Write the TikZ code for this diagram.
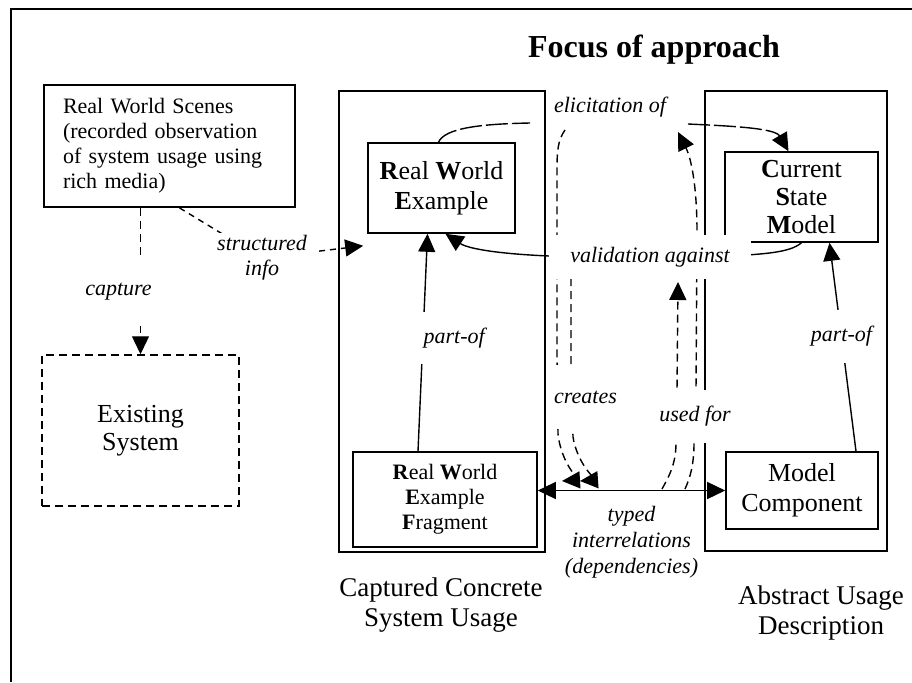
\documentclass[tikz,border=0pt]{standalone}
\usepackage{fontspec}
\setmainfont{Liberation Serif}
\usetikzlibrary{arrows.meta}

\begin{document}
\begin{tikzpicture}[x=1pt, y=-1pt,
	frame/.style={draw, line width=1.8pt, inner sep=0pt},
	entity/.style={draw, line width=1.6pt, align=center, inner sep=0pt, font=\fontsize{26}{30}\selectfont},
	lbl/.style={fill=white, align=center, inner sep=3pt, font=\fontsize{22}{25}\selectfont\itshape},
	caption/.style={align=center, font=\fontsize{27}{30}\selectfont},
	link/.style={line width=1.4pt, -{Triangle[length=18pt, width=17pt]}},
	dashlink/.style={link, dash pattern=on 8pt off 5pt}]
	% Paths, nodes and wires:
	\useasboundingbox (0, 0) rectangle (912, 682);
	\draw[line width=1.8pt] (11, 682) -- (11, 9) -- (912, 9);
	\node[font=\fontsize{32}{36}\selectfont\bfseries] (title) at (654, 50) {Focus of approach};
	\node[frame, text width=213pt, inner xsep=19pt, minimum height=122pt, align=left, font=\fontsize{22}{25}\selectfont] (scenes) at (169.5, 146) {Real World Scenes\\(recorded observation\\of system usage using\\rich media)};
	\node[entity, line width=1.5pt, dash pattern=on 8pt off 5pt, minimum width=197pt, minimum height=151pt, font=\fontsize{26}{28}\selectfont] (existing) at (140.5, 430.5) {Existing\\System};
	\node[frame, minimum width=206pt, minimum height=461pt] (concrete) at (442, 321.5) {};
	\node[frame, minimum width=182pt, minimum height=460pt] (abstract) at (796, 321) {};
	\node[entity, minimum width=147pt, minimum height=90pt] (rwe) at (441.5, 188) {\textbf{R}eal \textbf{W}orld\\\textbf{E}xample};
	\node[entity, minimum width=184pt, minimum height=95pt, font=\fontsize{22}{25}\selectfont] (fragment) at (445, 499.5) {\textbf{R}eal \textbf{W}orld\\\textbf{E}xample\\\textbf{F}ragment};
	\node[entity, minimum width=153pt, minimum height=90pt, font=\fontsize{26}{28}\selectfont] (csm) at (801.5, 197) {\textbf{C}urrent\\\textbf{S}tate\\\textbf{M}odel};
	\node[entity, minimum width=152pt, minimum height=77pt] (component) at (802, 490.5) {Model\\Component};
	\node[caption] (concretecap) at (441, 605) {Captured Concrete\\System Usage};
	\node[caption] (abstractcap) at (821, 613) {Abstract Usage\\Description};
	\coordinate (creA0) at (565, 130);
	\coordinate (creA1) at (562, 481);
	\coordinate (creB0) at (571, 278);
	\coordinate (creB1) at (580, 481);
	\coordinate (useC0) at (662, 489);
	\coordinate (useC1) at (678, 282);
	\coordinate (useD0) at (685, 489);
	\coordinate (useD1) at (678, 132);
	\draw[dashlink] (existing.north |- scenes.south) -- node[lbl, xshift=-22pt, yshift=-11pt, inner ysep=25pt] {capture} (existing.north);
	\draw[link, dash pattern=on 6pt off 5pt] ([xshift=10pt]scenes.south) -- (262, 258) node[lbl, inner xsep=12pt] {structured\\info} -- ([xshift=-4pt, yshift=-12pt]rwe.south west);
	\draw[link] ([xshift=-27pt]fragment.north) -- node[lbl, pos=0.52, anchor=west, xshift=-3pt, inner ysep=16pt] {part-of} ([xshift=-14pt]rwe.south);
	\draw[link] ([xshift=54pt]component.north) -- node[lbl, pos=0.55, inner ysep=16pt] {part-of} ([xshift=28pt]csm.south);
	\draw[line width=1.4pt, {Triangle[length=18pt, width=17pt]}-{Triangle[length=18pt, width=17pt]}] (fragment.east |- component.west) -- node[lbl, anchor=north, yshift=-12pt, font=\fontsize{22}{26}\selectfont\itshape] {typed\\interrelations\\(dependencies)} (component.west);
	\draw[dashlink] (creB0) -- (571, 365) -- (573, 437) .. controls (577, 462) and (594, 480) .. (creB1);
	\draw[dashlink] (creA0) .. controls (558, 140) and (557, 150) .. (557, 170) -- (557, 360) -- node[lbl, anchor=west, xshift=-7pt, inner ysep=26pt] {creates} (558, 434) .. controls (561, 462) and (578, 480) .. (creA1);
	\draw[dashlink] (useC0) .. controls (668, 478) and (676, 465) .. (676, 443) -- (677, 390) -- (useC1);
	\draw[dashlink] (useD0) .. controls (690, 478) and (694, 465) .. (694, 443) -- node[lbl, inner ysep=16pt] {used for} (696, 390) -- (697, 232) .. controls (697, 190) and (692, 160) .. (useD1);
	\draw[link] (csm.south) .. controls (790, 252) and (770, 257) .. (650, 257) node[lbl, inner xsep=21pt, inner ysep=12pt] {validation against} .. controls (520, 259) and (470, 250) .. ([xshift=4pt]rwe.south);
	\draw[link, dash pattern=on 22pt off 4pt] ([xshift=-3pt]rwe.north) .. controls (445, 128) and (480, 124) .. (530, 123) (610, 107) node[lbl] {elicitation of} (688, 124) .. controls (730, 126) and (775, 128) .. ([xshift=-13pt]csm.north);
\end{tikzpicture}
\end{document}
